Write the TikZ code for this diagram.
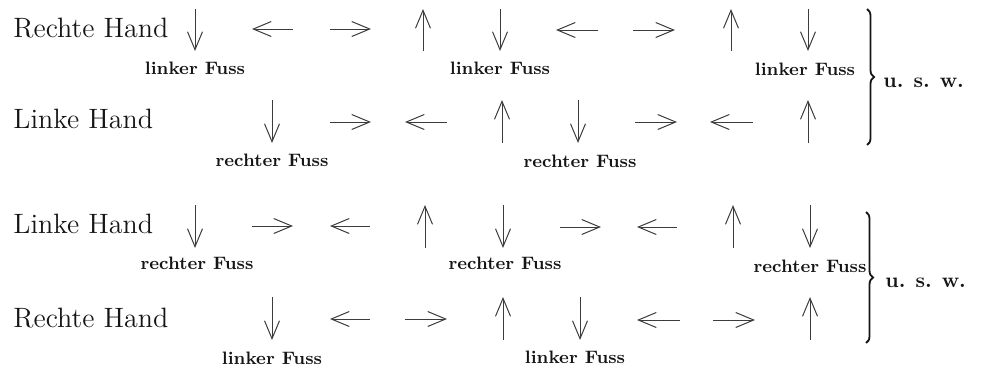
\documentclass[tikz,border=0pt]{standalone}
\usepackage{amsmath,amssymb}
\usepackage{xcolor}
\usepackage{tikz}
\usetikzlibrary{arrows.meta,positioning,decorations.pathreplacing}
\definecolor{inkc}{HTML}{151515}
\definecolor{arrc}{HTML}{3C3C3C}
\tikzset{
  ar/.style={-{Straight Barb[length=9pt,width=7.5pt]},line width=0.5pt,arrc},
  hand/.style={anchor=base west,inner sep=0pt,inkc,font=\fontsize{14}{16}\selectfont},
  fuss/.style={anchor=base,inner sep=0pt,inkc,font=\fontsize{9}{10}\selectfont\bfseries},
  usw/.style={anchor=base west,inner sep=0pt,inkc,font=\fontsize{10.5}{12}\selectfont\bfseries},
  klammer/.style={decorate,decoration={brace,amplitude=3.5pt},line width=0.9pt,inkc}
}

\begin{document}
\begin{tikzpicture}[x=0.5pt,y=-0.5pt]
\useasboundingbox (0,0) rectangle (983,371);
% erste Gruppe
\node[hand] (rh1) at (13,37) {Rechte Hand};
\node[hand] (lh1) at (13,128) {Linke Hand};
\foreach \x in {195,500,808} \draw[ar] (\x,9)--(\x,51);
\foreach \x in {423,731} \draw[ar] (\x,51)--(\x,9);
\draw[ar] (293,29)--(252,29); \draw[ar] (330,29)--(371,29);
\draw[ar] (598,30)--(556,30); \draw[ar] (633,30)--(675,30);
\foreach \x in {272,578} \draw[ar] (\x,100)--(\x,143);
\foreach \x in {502,808} \draw[ar] (\x,143)--(\x,100);
\draw[ar] (330,122)--(371,122); \draw[ar] (447,122)--(405,122);
\draw[ar] (635,122)--(677,122); \draw[ar] (753,122)--(710,122);
\node[fuss] (lf1) at (195,74) {linker Fuss};
\node[fuss] (lf2) at (500,74) {linker Fuss};
\node[fuss] (lf3) at (805,75) {linker Fuss};
\node[fuss] (rf1) at (272,166) {rechter Fuss};
\node[fuss] (rf2) at (580,167) {rechter Fuss};
\coordinate (k1o) at (867,9); \coordinate (k1u) at (867,145);
\draw[klammer] (k1o)--(k1u);
\node[usw] (usw1) at (883,87) {u.\hspace{5pt}s.\hspace{5pt}w.};
% zweite Gruppe
\node[hand] (lh2) at (13,233) {Linke Hand};
\node[hand] (rh2) at (13,327) {Rechte Hand};
\foreach \x in {195,503,810} \draw[ar] (\x,205)--(\x,248);
\foreach \x in {425,733} \draw[ar] (\x,248)--(\x,205);
\draw[ar] (252,226)--(293,226); \draw[ar] (370,226)--(330,226);
\draw[ar] (560,227)--(601,227); \draw[ar] (677,227)--(637,227);
\foreach \x in {272,580} \draw[ar] (\x,297)--(\x,340);
\foreach \x in {503,810} \draw[ar] (\x,340)--(\x,297);
\draw[ar] (370,319)--(330,319); \draw[ar] (405,319)--(447,319);
\draw[ar] (680,320)--(637,320); \draw[ar] (713,320)--(755,320);
\node[fuss] (rf3) at (197,269) {rechter Fuss};
\node[fuss] (rf4) at (505,269) {rechter Fuss};
\node[fuss] (rf5) at (810,272) {rechter Fuss};
\node[fuss] (lf4) at (272,364) {linker Fuss};
\node[fuss] (lf5) at (575,363) {linker Fuss};
\coordinate (k2o) at (866,212); \coordinate (k2u) at (866,343);
\draw[klammer] (k2o)--(k2u);
\node[usw] (usw2) at (885,287) {u.\hspace{5pt}s.\hspace{5pt}w.};
\end{tikzpicture}
\end{document}
